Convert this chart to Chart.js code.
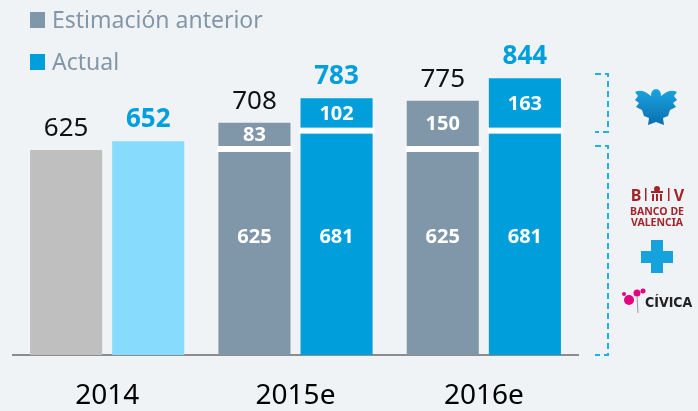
<!DOCTYPE html>
<html lang="es">
<head>
<meta charset="utf-8">
<script src="https://cdn.jsdelivr.net/npm/chart.js@4.4.1/dist/chart.umd.min.js"></script>
<style>
  html, body { margin: 0; padding: 0; background: #EFF3F5; }
  #wrap { width: 698px; height: 411px; position: relative; }
</style>
</head>
<body>
<div id="wrap"><canvas id="chart"></canvas></div>
<script>
const categories = ['2014', '2015e', '2016e'];
const prevBase = [625, 625, 625];
const prevInc = [0, 83, 150];
const actBase = [652, 681, 681];
const actInc = [0, 102, 163];

const legendLabels = ['Estimación anterior', 'Actual'];

const prevColors = ['#BFBFBF', '#8097A9', '#8097A9'];
const actColors = ['#87DCFD', '#009FDB', '#009FDB'];
const FONT = '"Noto Sans", "Open Sans", sans-serif';
const BASE_LABEL_LEVEL = 360; // where the white figures inside the lower segments sit

// background, legend, labels and the little logos on the right
const decor = {
    id: 'decor',
    beforeDraw(chart) {
        const ctx = chart.ctx;
        ctx.save();
        ctx.fillStyle = '#EFF3F5';
        ctx.fillRect(0, 0, chart.width, chart.height);
        ctx.restore();
    },
    afterDatasetsDraw(chart) {
        const ctx = chart.ctx;
        const yScale = chart.scales.y;
        const m = [0, 1, 2, 3].map(i => chart.getDatasetMeta(i).data);
        ctx.save();

        categories.forEach((c, j) => {
            [[0, 1, prevBase, prevInc, false], [2, 3, actBase, actInc, true]].forEach(([bi, ii, base, inc, isAct]) => {
                const b = m[bi][j], t = m[ii][j];
                const top = inc[j] ? t.y : b.y;
                // total above the bar
                ctx.textAlign = 'center';
                ctx.textBaseline = 'alphabetic';
                ctx.fillStyle = isAct ? '#009FDB' : '#111';
                ctx.font = (isAct ? 'bold ' : '') + '26px ' + FONT;
                ctx.fillText(base[j] + inc[j], b.x, top - 14);
                if (!inc[j]) return;
                // white split line
                ctx.fillStyle = '#fff';
                ctx.fillRect(t.x - t.width / 2 - 1, t.base - 4, t.width + 3, 6);
                // inner labels
                ctx.font = 'bold 20px ' + FONT;
                ctx.textBaseline = 'middle';
                ctx.fillText(inc[j], t.x, (t.y + t.base - 4) / 2 + 1);
                ctx.fillText(base[j], b.x, yScale.getPixelForValue(BASE_LABEL_LEVEL));
            });
        });

        // legend
        const legColors = ['#8097A9', '#009FDB'];
        legendLabels.forEach((txt, i) => {
            const y = 12 + i * 42;
            ctx.fillStyle = legColors[i];
            ctx.fillRect(30, y, 15, 16);
            ctx.fillStyle = '#8497A8';
            ctx.font = '23px ' + FONT;
            ctx.textAlign = 'left';
            ctx.textBaseline = 'alphabetic';
            ctx.fillText(txt, 52, y + 16);
        });

        // dashed brackets
        ctx.strokeStyle = '#1EB1EA';
        ctx.lineWidth = 2;
        ctx.setLineDash([6, 4]);
        const bracket = (y1, y2) => {
            ctx.beginPath();
            ctx.moveTo(595, y1);
            ctx.lineTo(608, y1);
            ctx.lineTo(608, y2);
            ctx.lineTo(595, y2);
            ctx.stroke();
        };
        bracket(74, 132);
        bracket(146, 355);
        ctx.setLineDash([]);

        // eagle
        const cx = 656;
        const g = ctx.createLinearGradient(0, 88, 0, 126);
        g.addColorStop(0, '#1BA6E0');
        g.addColorStop(1, '#0A6DAE');
        ctx.fillStyle = g;
        ctx.beginPath();
        ctx.moveTo(cx - 5, 96);
        ctx.quadraticCurveTo(cx - 14, 88, cx - 21, 92);
        ctx.lineTo(cx - 18, 96);
        ctx.lineTo(cx - 21, 100);
        ctx.lineTo(cx - 17, 103);
        ctx.lineTo(cx - 20, 107);
        ctx.lineTo(cx - 14, 110);
        ctx.lineTo(cx - 12, 116);
        ctx.lineTo(cx - 7, 118);
        ctx.lineTo(cx - 8, 125);
        ctx.lineTo(cx, 122);
        ctx.lineTo(cx + 8, 125);
        ctx.lineTo(cx + 7, 118);
        ctx.lineTo(cx + 12, 116);
        ctx.lineTo(cx + 14, 110);
        ctx.lineTo(cx + 20, 107);
        ctx.lineTo(cx + 17, 103);
        ctx.lineTo(cx + 21, 100);
        ctx.lineTo(cx + 18, 96);
        ctx.lineTo(cx + 21, 92);
        ctx.quadraticCurveTo(cx + 14, 88, cx + 5, 96);
        ctx.closePath();
        ctx.fill();
        ctx.beginPath();
        ctx.ellipse(cx, 95, 5, 6, 0, 0, Math.PI * 2);
        ctx.fill();

        // Banco de Valencia
        ctx.fillStyle = '#A3252B';
        ctx.textAlign = 'center';
        ctx.textBaseline = 'alphabetic';
        ctx.font = 'bold 16px ' + FONT;
        ctx.fillText('B', 636, 201);
        ctx.fillText('V', 679, 201);
        ctx.fillRect(645, 188, 1.5, 13);
        ctx.fillRect(668, 188, 1.5, 13);
        ctx.beginPath();
        ctx.arc(657, 189, 3, 0, Math.PI * 2);
        ctx.fill();
        ctx.fillRect(651, 191, 12, 2);
        ctx.fillRect(652, 194, 2, 7);
        ctx.fillRect(656, 194, 2, 7);
        ctx.fillRect(660, 194, 2, 7);
        ctx.font = 'bold 10.5px ' + FONT;
        ctx.fillText('BANCO DE', 657, 215);
        ctx.fillText('VALENCIA', 657, 226);

        // plus
        ctx.fillStyle = '#16A2DD';
        ctx.fillRect(651, 240, 12, 33);
        ctx.fillRect(641, 251, 32, 12);

        // Cívica
        ctx.fillStyle = '#E6007E';
        [[629, 300, 5], [637, 293, 3.5], [643, 291, 2.5], [624, 294, 2]].forEach(([x, y, r]) => {
            ctx.beginPath();
            ctx.arc(x, y, r, 0, Math.PI * 2);
            ctx.fill();
        });
        ctx.strokeStyle = '#999';
        ctx.lineWidth = 1;
        ctx.beginPath();
        ctx.moveTo(637, 296);
        ctx.lineTo(638, 313);
        ctx.stroke();
        ctx.fillStyle = '#222';
        ctx.font = 'bold 14px "DejaVu Sans Condensed", ' + FONT;
        ctx.textAlign = 'left';
        ctx.fillText('CÍVICA', 645, 307);

        ctx.restore();
    }
};

new Chart(document.getElementById('chart'), {
    type: 'bar',
    data: {
        labels: categories,
        datasets: [
            { label: 'prevBase', data: prevBase, stack: 'prev', backgroundColor: prevColors },
            { label: 'prevInc', data: prevInc, stack: 'prev', backgroundColor: prevColors },
            { label: 'actBase', data: actBase, stack: 'act', backgroundColor: actColors },
            { label: 'actInc', data: actInc, stack: 'act', backgroundColor: actColors }
        ]
    },
    options: {
        responsive: true,
        maintainAspectRatio: false,
        animation: false,
        categoryPercentage: 0.872,
        barPercentage: 0.878,
        layout: { padding: { top: 27, left: 13, right: 120, bottom: 0 } },
        plugins: { legend: { display: false }, tooltip: { enabled: false } },
        scales: {
            x: {
                stacked: true,
                grid: { display: false, drawTicks: false },
                border: { display: true, color: '#8C8C8C', width: 2 },
                ticks: { color: '#000', padding: 24, font: { family: FONT, size: 28 } },
                afterFit(scale) { scale.height = 56; }
            },
            y: {
                stacked: true,
                display: false,
                min: 0,
                max: 1000
            }
        }
    },
    plugins: [decor]
});
</script>
</body>
</html>
